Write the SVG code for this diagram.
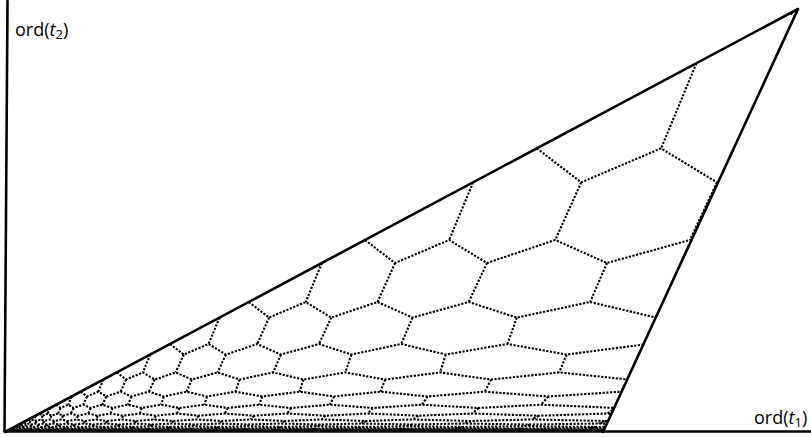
<svg xmlns="http://www.w3.org/2000/svg" xmlns:xlink="http://www.w3.org/1999/xlink" width="811" height="437" viewBox="0 0 811 437">
<style>
.cell{fill:none;stroke:#000;stroke-width:2.1;stroke-dasharray:2.2 1.5;vector-effect:non-scaling-stroke}
.solid{fill:none;stroke:#000;stroke-width:2.6;stroke-linecap:round;stroke-linejoin:round}
.lbl{font-family:"Open Sans","Liberation Sans",sans-serif;font-size:18px;fill:#000}
</style>
<defs>
<clipPath id="tri" clipPathUnits="userSpaceOnUse">
<polygon points="0,0 793,-423 598,0"/>
</clipPath>
<path id="row" class="cell" d="M316.9 -169L300.7 -130M390.1 -169L372.5 -130M482 -169L463.7 -130M602 -169L585.1 -130M755.9 -169L742.3 -130M961.6 -169L949.1 -130M1225.3 -169L1209.4 -130M1566.6 -169L1546.2 -130M2011.1 -169L1985 -130M2585.7 -169L2552.1 -130M3329.3 -169L3286 -130M4292.6 -169L4236.8 -130M5543.2 -169L5471.1 -130M7148.7 -169L7055.8 -130M9227.4 -169L9107.4 -130M11897.6 -169L11742.9 -130M15345.2 -169L15145.7 -130M19773 -169L19516 -130M25519 -169L25187 -130M32955 -169L32527 -130M42588 -169L42034 -130M54925 -169L54211 -130M70811 -169L69891 -130M91260 -169L90074 -130M117793 -169L116262 -130M151931 -169L149956 -130M196040 -169L193491 -130M243.75 -130L264.1 -114.41L300.7 -130L326.3 -114.41L372.5 -130L407.5 -114.41L463.7 -130L511.8 -114.41L585.1 -130L651 -114.41L742.3 -130L829.5 -114.41L949.1 -130L1060.6 -114.41L1209.4 -130L1361.5 -114.41L1546.2 -130L1750.5 -114.41L1985 -130L2253.9 -114.41L2552.1 -130L2906 -114.41L3286 -130L3752.6 -114.41L4236.8 -130L4839.5 -114.41L5471.1 -130L6246.8 -114.41L7055.8 -130L8054.5 -114.41L9107.4 -130L10388.4 -114.41L11742.9 -130L13386 -114.41L15145.7 -130L17276 -114.41L19516 -130L22310 -114.41L25187 -130L28831 -114.41L32527 -130L37183 -114.41L42034 -130L47938 -114.41L54211 -130L61781 -114.41L69891 -130L79744 -114.41L90074 -130L102855 -114.41L116262 -130L132716 -114.41L149956 -130L171157 -114.41"/>
</defs>
<rect width="811" height="437" fill="#fff"/>
<g id="cells" transform="translate(5,432)">
<g clip-path="url(#tri)">
<use xlink:href="#row" transform="scale(3.2228)"/>
<use xlink:href="#row" transform="scale(2.1818)"/>
<use xlink:href="#row" transform="scale(1.4771)"/>
<use xlink:href="#row"/>
<use xlink:href="#row" transform="scale(0.677)"/>
<use xlink:href="#row" transform="scale(0.458329)"/>
<use xlink:href="#row" transform="scale(0.310289)"/>
<use xlink:href="#row" transform="scale(0.210065)"/>
<use xlink:href="#row" transform="scale(0.142214)"/>
<use xlink:href="#row" transform="scale(0.096279)"/>
<use xlink:href="#row" transform="scale(0.065181)"/>
<use xlink:href="#row" transform="scale(0.044127)"/>
<use xlink:href="#row" transform="scale(0.029874)"/>
<use xlink:href="#row" transform="scale(0.020225)"/>
<use xlink:href="#row" transform="scale(0.013692)"/>
<use xlink:href="#row" transform="scale(0.009269)"/>
<use xlink:href="#row" transform="scale(0.006275)"/>
<use xlink:href="#row" transform="scale(0.004248)"/>
</g>
</g>
<g id="axes">
<path class="solid" d="M7.5 1L4.5 431.5L811 431.5"/>
</g>
<g id="triangle">
<path class="solid" d="M5 432L798 9L603 432"/>
</g>
<g id="labels">
<text class="lbl" x="15" y="36">ord(<tspan font-style="italic">t</tspan><tspan dy="3" font-size="13">2</tspan><tspan dy="-3">)</tspan></text>
<text class="lbl" x="754" y="424">ord(<tspan font-style="italic">t</tspan><tspan dy="3" font-size="13">1</tspan><tspan dy="-3">)</tspan></text>
</g>
</svg>
